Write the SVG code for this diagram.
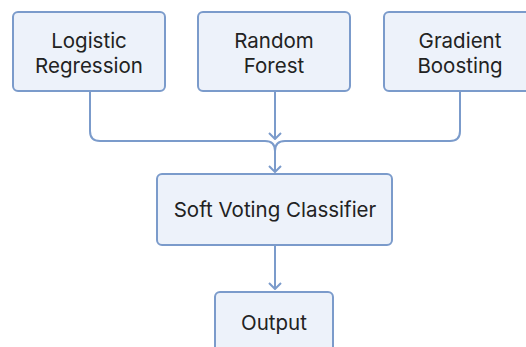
<svg xmlns="http://www.w3.org/2000/svg" width="526" height="347" viewBox="0 0 526 347">
<style>
.box{fill:#edf2fa;stroke:#7b9bcb;stroke-width:2}
.lbl{font-family:Inter,"Liberation Sans",sans-serif;font-size:20.5px;fill:#222;text-anchor:middle}
.conn{fill:none;stroke:#7b9bcb;stroke-width:2}
</style>
<defs>
<marker id="arr" viewBox="0 0 8 14" refX="7" refY="7" markerWidth="8" markerHeight="14" markerUnits="userSpaceOnUse" orient="auto">
<path d="M1,1 L7,7 L1,13" fill="none" stroke="#7b9bcb" stroke-width="2"/>
</marker>
</defs>
<rect width="526" height="347" fill="#ffffff"/>
<g id="connectors">
<path class="conn" d="M90,91 V131 Q90,141 100,141 H265 Q275,141 275,151 V172" marker-end="url(#arr)"/>
<path class="conn" d="M275,91 V139" marker-end="url(#arr)"/>
<path class="conn" d="M460,91 V131 Q460,141 450,141 H285 Q275,141 275,151"/>
<path class="conn" d="M275,245 V289" marker-end="url(#arr)"/>
</g>
<g id="logistic">
<rect class="box" x="13" y="12" width="152" height="79" rx="5"/>
<text class="lbl" x="89" y="48">Logistic</text>
<text class="lbl" x="89" y="73">Regression</text>
</g>
<g id="random_forest">
<rect class="box" x="198" y="12" width="152" height="79" rx="5"/>
<text class="lbl" x="274" y="48">Random</text>
<text class="lbl" x="274" y="73">Forest</text>
</g>
<g id="gradient_boosting">
<rect class="box" x="384" y="12" width="152" height="79" rx="5"/>
<text class="lbl" x="460" y="48">Gradient</text>
<text class="lbl" x="460" y="73">Boosting</text>
</g>
<g id="soft_voting">
<rect class="box" x="157" y="174" width="235" height="71" rx="5"/>
<text class="lbl" x="275" y="217">Soft Voting Classifier</text>
</g>
<g id="output">
<rect class="box" x="215" y="292" width="118" height="70" rx="5"/>
<text class="lbl" x="274" y="330">Output</text>
</g>
</svg>
